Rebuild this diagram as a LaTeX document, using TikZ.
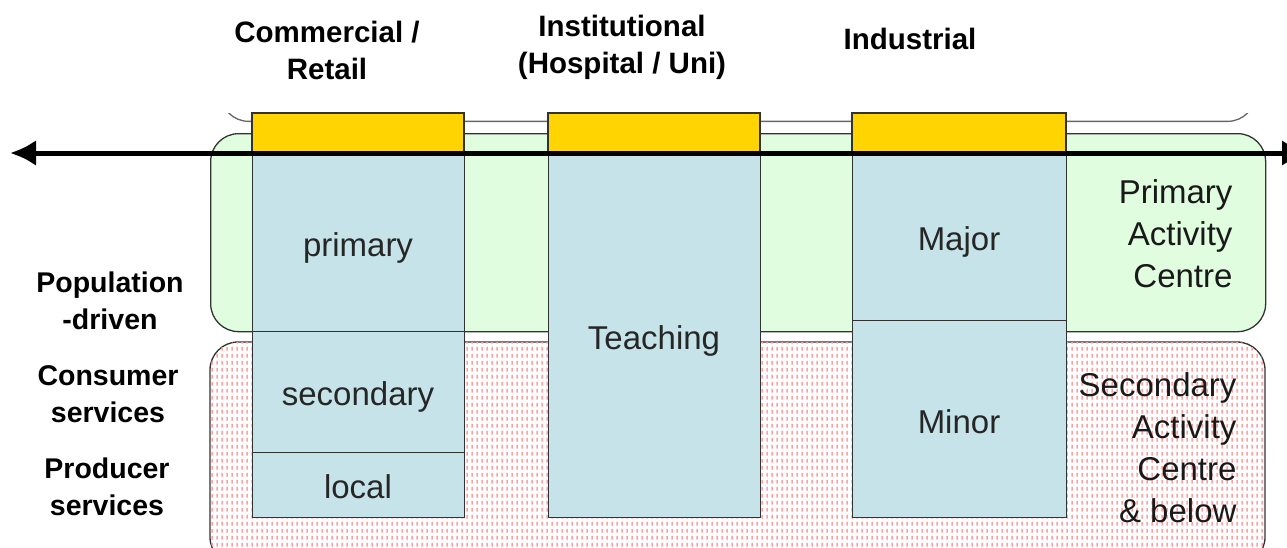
\documentclass[tikz,border=0pt]{standalone}
\usepackage{fontspec}
\setmainfont{Liberation Sans}
\usetikzlibrary{patterns.meta,arrows.meta}
\pgfdeclarepattern{
  name=pinkdash,
  type=uncolored,
  bottom left={\pgfpoint{0pt}{0pt}},
  top right={\pgfpoint{5pt}{7pt}},
  tile size={\pgfpoint{5pt}{7pt}},
  code={\pgfpathrectangle{\pgfpoint{1.5pt}{1.5pt}}{\pgfpoint{2pt}{4.2pt}}\pgfusepath{fill}}
}
\definecolor{band}{RGB}{224,253,224}
\definecolor{pinkd}{RGB}{255,160,160}
\definecolor{gold}{RGB}{255,212,0}
\definecolor{cellblue}{RGB}{197,227,232}
\definecolor{edge}{RGB}{50,50,50}
\tikzset{
  x=1pt, y=-1pt,
  zone/.style={draw=edge, line width=1.3pt, rounded corners=28pt},
  cell/.style={draw=edge, line width=1.3pt, fill=cellblue},
  goldcap/.style={fill=gold, draw=edge, line width=1.2pt},
  head/.style={font=\fontsize{29.5}{37}\selectfont\bfseries, align=center},
  side/.style={font=\fontsize{28.5}{37}\selectfont\bfseries, align=center},
  inner/.style={font=\fontsize{33}{40}\selectfont, text=black!85},
  lvl/.style={font=\fontsize{33}{42}\selectfont, align=right, text=black!90}
}
\begin{document}
\begin{tikzpicture}
\useasboundingbox (0,0) rectangle (1287,547);
\clip (0,0) rectangle (1287,547);
% top partially visible box
\begin{scope}
\clip (0,113) rectangle (1287,130);
\node[zone, draw=black!60, fill=white, minimum width=1035pt, minimum height=80pt, anchor=south west, inner sep=0pt] (topz) at (220,122) {};
\end{scope}
% green band
\node[zone, fill=band, minimum width=1055pt, minimum height=198pt, anchor=north west, inner sep=0pt] (green) at (210,133) {};
% pink band
\path[zone, fill=white] (210,342) rectangle (1265,565);
\path[rounded corners=28pt, pattern={pinkdash}, pattern color=pinkd] (210,342) rectangle (1265,565);
% columns
\draw[goldcap] (252,113) rectangle (464,153);
\draw[goldcap] (548,113) rectangle (760,153);
\draw[goldcap] (852,113) rectangle (1066,153);
\node[cell, minimum width=212pt, minimum height=178pt, anchor=north west, inner sep=0pt] (prim) at (252,153) {};
\node[cell, minimum width=212pt, minimum height=121pt, anchor=north west, inner sep=0pt] (sec) at (252,331) {};
\node[cell, minimum width=212pt, minimum height=65pt, anchor=north west, inner sep=0pt] (loc) at (252,452) {};
\node[cell, minimum width=212pt, minimum height=364pt, anchor=north west, inner sep=0pt] (teach) at (548,153) {};
\node[cell, minimum width=214pt, minimum height=167pt, anchor=north west, inner sep=0pt] (major) at (852,153) {};
\node[cell, minimum width=214pt, minimum height=197pt, anchor=north west, inner sep=0pt] (minor) at (852,320) {};
% arrow
\coordinate (aL) at (10,153);
\coordinate (aR) at (1308,153);
\coordinate (aM) at (640,153);
\draw[line width=5pt, -{Latex[length=26pt,width=26pt]}] (aM) -- (aL);
\draw[line width=5pt, -{Latex[length=26pt,width=26pt]}] (aM) -- (aR);
% inner labels
\node[inner] at (358,248) {primary};
\node[inner] at (358,397) {secondary};
\node[inner] at (358,487) {local};
\node[inner] at (654,341) {Teaching};
\node[inner] at (959,242) {Major};
\node[inner] at (959,422) {Minor};
% headers
\node[head] (h1) at (327,50) {Commercial /\\Retail};
\node[head] (h2) at (622,47) {Institutional\\(Hospital / Uni)};
\node[head] (h3) at (910,39) {Industrial};
% side labels
\node[side] (s1) at (110,301) {Population\\-driven};
\node[side] (s2) at (108,394) {Consumer\\services};
\node[side] (s3) at (107,487) {Producer\\services};
% level labels
\node[lvl, anchor=east] (l1) at (1236,234) {Primary\\Activity\\Centre};
\node[lvl, anchor=east] (l2) at (1240,448) {Secondary\\Activity\\Centre\\\& below};
\end{tikzpicture}
\end{document}
